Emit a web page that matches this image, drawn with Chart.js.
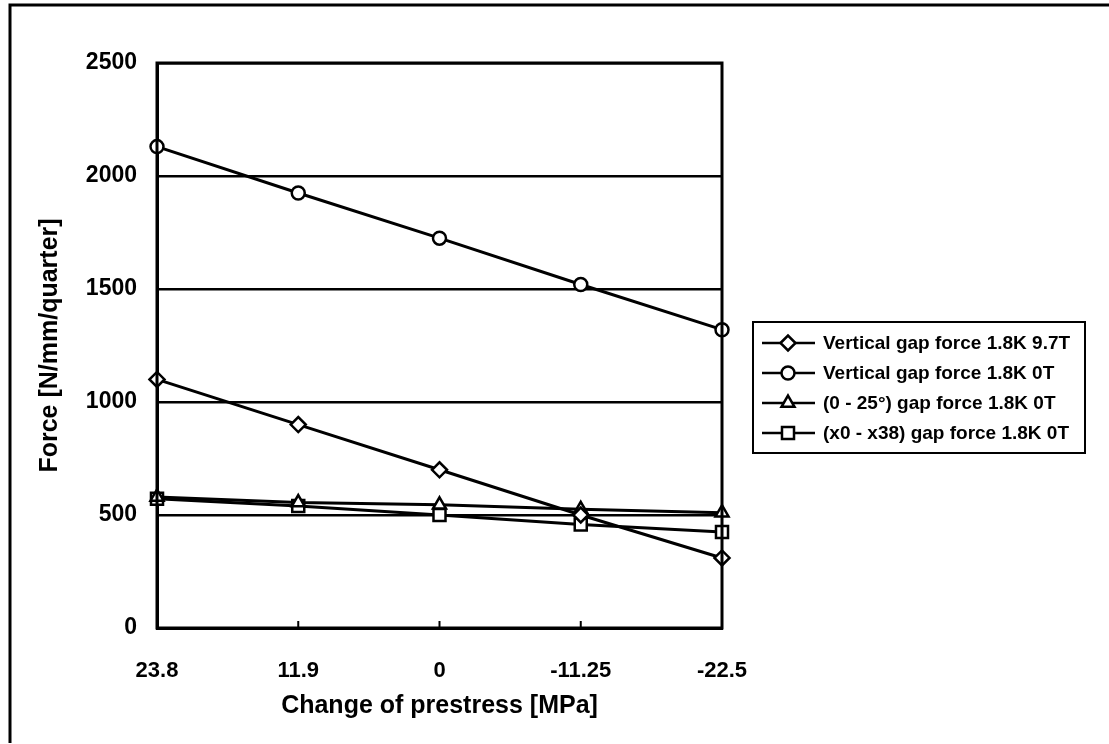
<!DOCTYPE html>
<html>
<head>
<meta charset="utf-8">
<title>Force vs change of prestress</title>
<script src="https://cdn.jsdelivr.net/npm/chart.js@4"></script>
<style>
  html, body { margin: 0; padding: 0; background: #fff; }
  #wrap { position: relative; width: 1109px; height: 744px; }
</style>
</head>
<body>
<div id="wrap"><canvas id="chart"></canvas></div>
<script>
// ── Data ─────────────────────────────────────────────────────────
const categories = ['23.8', '11.9', '0', '-11.25', '-22.5'];
const vertical97T = [1100, 900, 700, 500, 310];
const vertical0T = [2130, 1925, 1725, 1520, 1320];
const angle0T = [580, 555, 545, 525, 510];
const x0x38_0T = [572, 540, 500, 458, 425];

const seriesNames = [
  'Vertical gap force 1.8K 9.7T',
  'Vertical gap force 1.8K 0T',
  '(0 - 25°) gap force 1.8K 0T',
  '(x0 - x38) gap force 1.8K 0T',
];

const FONT = '"Liberation Sans", Arial, Helvetica, sans-serif';

function series(label, data, pointStyle, radius) {
  return {
    label, data, pointStyle,
    borderColor: '#000',
    borderWidth: 3,
    pointRadius: radius,
    pointBorderWidth: 2.5,
    pointBackgroundColor: '#fff',
    pointBorderColor: '#000',
    tension: 0,
    clip: false,
  };
}

// ── Frame, plot box, inner ticks and boxed legend ────────────────
const decorations = {
  id: 'decorations',
  afterDraw(chart) {
    const { ctx, chartArea: a } = chart;
    const x = chart.scales.x;
    ctx.save();
    ctx.strokeStyle = '#000';

    // page frame (left + top edge)
    ctx.lineWidth = 3;
    ctx.beginPath();
    ctx.moveTo(10, 743);
    ctx.lineTo(10, 5);
    ctx.lineTo(1109, 5);
    ctx.stroke();

    // plot border
    ctx.lineWidth = 3;
    ctx.strokeRect(a.left, a.top, a.right - a.left, a.bottom - a.top);

    // small tick marks pointing into the plot
    ctx.lineWidth = 2;
    for (let i = 1; i < categories.length - 1; i++) {
      const px = x.getPixelForTick(i);
      ctx.beginPath();
      ctx.moveTo(px, a.bottom);
      ctx.lineTo(px, a.bottom - 7);
      ctx.stroke();
    }

    // legend
    const lx = a.right + 31, ly = 322, lw = 332, lh = 131;
    ctx.lineWidth = 2;
    ctx.strokeRect(lx, ly, lw, lh);
    ctx.font = 'bold 19px ' + FONT;
    ctx.fillStyle = '#000';
    ctx.textBaseline = 'middle';
    chart.data.datasets.forEach((ds, i) => {
      const ry = ly + 21 + i * 30;
      ctx.lineWidth = 2.5;
      ctx.beginPath();
      ctx.moveTo(lx + 9, ry);
      ctx.lineTo(lx + 62, ry);
      ctx.stroke();
      ctx.fillStyle = '#fff';
      Chart.helpers.drawPoint(ctx, {
        pointStyle: ds.pointStyle, radius: ds.pointRadius, borderWidth: 2, rotation: 0,
      }, lx + 35, ry);
      ctx.fillStyle = '#000';
      ctx.fillText(ds.label, lx + 70, ry + 1);
    });
    ctx.restore();
  },
};

new Chart(document.getElementById('chart'), {
  type: 'line',
  data: {
    labels: categories,
    datasets: [
      series(seriesNames[0], vertical97T, 'rectRot', 7.5),
      series(seriesNames[1], vertical0T, 'circle', 6.5),
      series(seriesNames[2], angle0T, 'triangle', 7.5),
      series(seriesNames[3], x0x38_0T, 'rect', 8.5),
    ],
  },
  options: {
    responsive: true,
    maintainAspectRatio: false,
    animation: false,
    layout: { padding: { left: 7, top: 63, right: 387, bottom: 0 } },
    plugins: { legend: { display: false }, tooltip: { enabled: false } },
    scales: {
      x: {
        type: 'category',
        offset: false,
        afterFit(scale) { scale.height = 116; },
        grid: { display: false, drawTicks: false },
        border: { display: true, color: '#000', width: 3 },
        ticks: {
          color: '#000', padding: 30, maxRotation: 0, autoSkip: false,
          font: { family: FONT, size: 22, weight: 'bold' },
        },
        title: {
          display: true, text: 'Change of prestress [MPa]', color: '#000',
          font: { family: FONT, size: 25, weight: 'bold' },
          padding: { top: 0, bottom: 23 },
        },
      },
      y: {
        min: 0, max: 2500,
        afterFit(scale) { scale.width = 150; },
        grid: { color: '#000', lineWidth: 2.5, drawTicks: false },
        border: { display: true, color: '#000', width: 3 },
        ticks: {
          stepSize: 500, color: '#000', padding: 20,
          font: { family: FONT, size: 23, weight: 'bold' },
          callback: v => String(v),
        },
        title: {
          display: true, text: 'Force [N/mm/quarter]', color: '#000',
          font: { family: FONT, size: 25, weight: 'bold' },
          padding: { top: 28, bottom: 0 },
        },
      },
    },
  },
  plugins: [decorations],
});
</script>
</body>
</html>
